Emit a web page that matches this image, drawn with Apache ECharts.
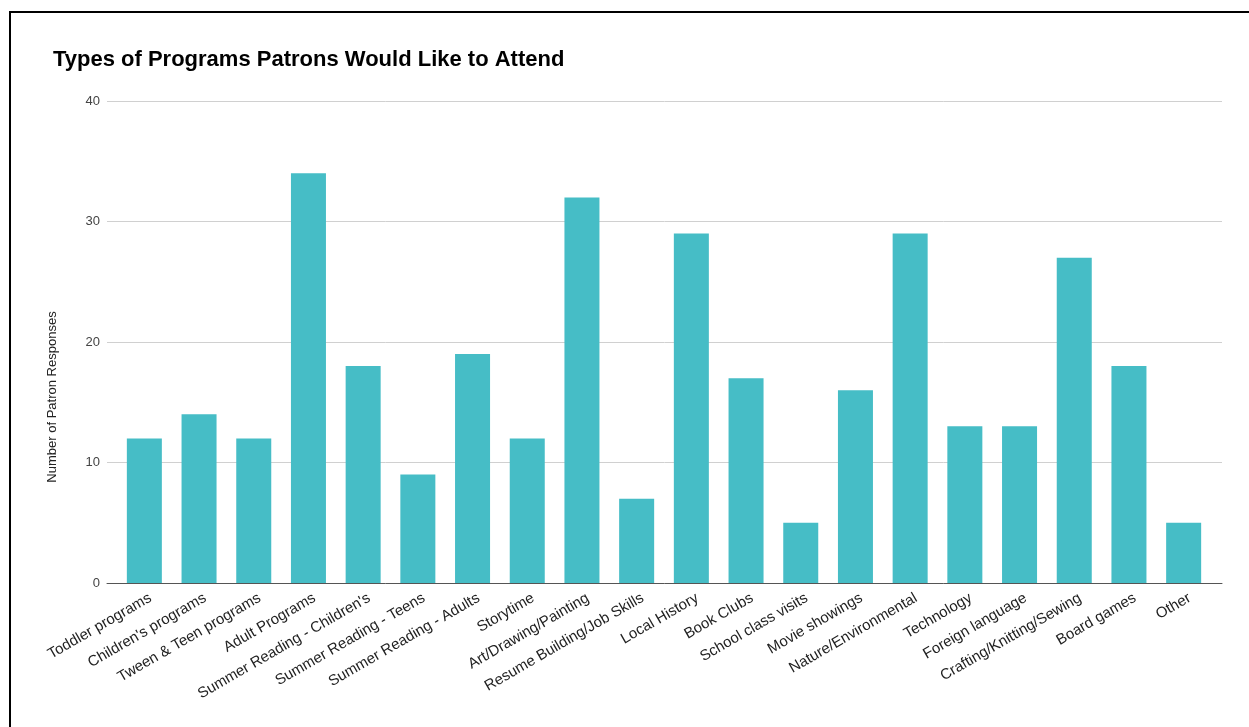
<!DOCTYPE html>
<html>
<head>
<meta charset="utf-8">
<script src="https://cdn.jsdelivr.net/npm/echarts@6/dist/echarts.min.js"></script>
<style>
  html, body { margin: 0; padding: 0; background: #fff; }
  #frame { position: absolute; left: 9px; top: 11px; width: 1300px; height: 800px; border: 2px solid #000; box-sizing: border-box; pointer-events: none; }
  #chart { position: absolute; left: 0; top: 0; width: 1249px; height: 727px; }
</style>
</head>
<body>
<div id="chart"></div>
<div id="frame"></div>
<script>
// Program types and how many patrons picked each one
const categories = [
  'Toddler programs', "Children's programs", 'Tween & Teen programs', 'Adult Programs',
  "Summer Reading - Children's", 'Summer Reading - Teens', 'Summer Reading - Adults',
  'Storytime', 'Art/Drawing/Painting', 'Resume Building/Job Skills', 'Local History',
  'Book Clubs', 'School class visits', 'Movie showings', 'Nature/Environmental',
  'Technology', 'Foreign language', 'Crafting/Knitting/Sewing', 'Board games', 'Other'
];
const responses = [12, 14, 12, 34, 18, 9, 19, 12, 32, 7, 29, 17, 5, 16, 29, 13, 13, 27, 18, 5];
const yTicks = [0, 10, 20, 30, 40];

const chart = echarts.init(document.getElementById('chart'), null, { renderer: 'canvas' });
const font = 'Liberation Sans, Arial, sans-serif';
const yMin = yTicks[0], yMax = yTicks[yTicks.length - 1];

function valueAxis(gridIndex, visible) {
  return {
    gridIndex, type: 'value', min: yMin, max: yMax, interval: 10,
    axisLine: { show: false }, axisTick: { show: false },
    splitLine: { show: visible, lineStyle: { color: '#d0d0d0' } },
    axisLabel: { show: visible, fontSize: 13, color: '#444', margin: 7, fontFamily: font }
  };
}

chart.setOption({
  animation: false,
  textStyle: { fontFamily: font },
  title: {
    text: 'Types of Programs Patrons Would Like to Attend',
    left: 48, top: 44,
    textStyle: { fontFamily: font, fontSize: 22, fontWeight: 'bold', color: '#000' }
  },
  // grid 0: gridlines and baseline; grid 1: bars, inset from the ends;
  // grid 2: category labels, nudged so each label's end sits just right of its bar
  grid: [
    { left: 107, right: 27, top: 101, bottom: 144, containLabel: false },
    { left: 117, right: 38, top: 101, bottom: 144, containLabel: false },
    { left: 123, right: 32, top: 101, bottom: 144, containLabel: false }
  ],
  xAxis: [
    {
      gridIndex: 0, type: 'category', data: categories,
      axisTick: { show: false }, axisLabel: { show: false },
      axisLine: { lineStyle: { color: '#555', width: 1 } }, z: 5
    },
    {
      gridIndex: 1, type: 'category', data: categories,
      axisTick: { show: false }, axisLine: { show: false }, axisLabel: { show: false }
    },
    {
      gridIndex: 2, type: 'category', data: categories,
      axisTick: { show: false }, axisLine: { show: false },
      axisLabel: { rotate: 30, interval: 0, fontSize: 15, color: '#222', margin: 14, fontFamily: font }
    }
  ],
  yAxis: [valueAxis(0, true), valueAxis(1, false), valueAxis(2, false)],
  graphic: [{
    type: 'text',
    x: 52, y: 397,
    rotation: Math.PI / 2,
    style: { text: 'Number of Patron Responses', fontSize: 13, fill: '#222', fontFamily: font, align: 'center', verticalAlign: 'middle' }
  }],
  series: [{
    type: 'bar',
    xAxisIndex: 1, yAxisIndex: 1,
    data: responses,
    barCategoryGap: '36%',
    itemStyle: { color: '#46bdc6' }
  }]
});
</script>
</body>
</html>
